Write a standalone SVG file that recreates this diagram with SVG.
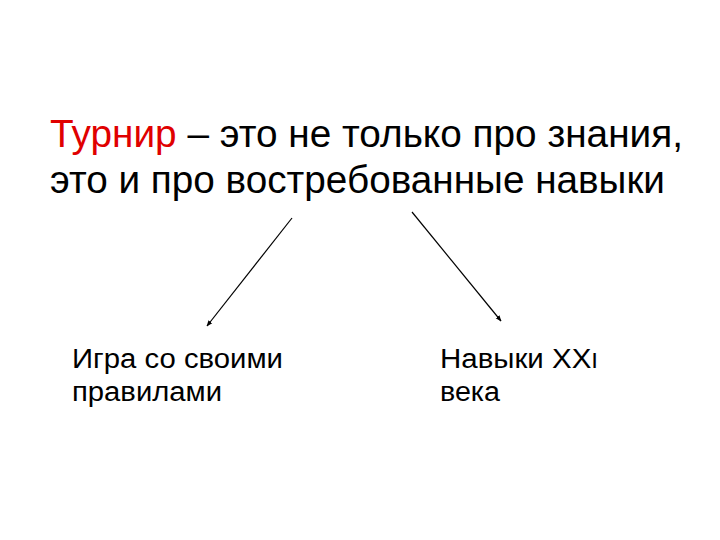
<svg xmlns="http://www.w3.org/2000/svg" width="720" height="540" viewBox="0 0 720 540">
<style>
.title{font-family:"Liberation Sans",Arial,sans-serif;font-size:38px;fill:#000}
.red{fill:#e00000}
.lbl{font-family:"Liberation Sans",Arial,sans-serif;font-size:27px;fill:#000}
.conn{stroke:#000;stroke-width:1.2;fill:none}
</style>
<defs>
<marker id="ah" viewBox="0 0 10 10" refX="9" refY="5" markerWidth="6" markerHeight="6" orient="auto" markerUnits="userSpaceOnUse">
<path d="M0,1 L10,5 L0,9 Z" fill="#000"/>
</marker>
</defs>
<rect width="720" height="540" fill="#fff"/>
<g id="title">
<text class="title" x="50" y="147" textLength="633" lengthAdjust="spacingAndGlyphs"><tspan class="red">Турнир</tspan> – это не только про знания,</text>
<text class="title" x="50" y="193" textLength="615" lengthAdjust="spacingAndGlyphs">это и про востребованные навыки</text>
</g>
<g id="node-left">
<text class="lbl" x="72" y="368" textLength="211" lengthAdjust="spacingAndGlyphs">Игра со своими</text>
<text class="lbl" x="72" y="401" textLength="150" lengthAdjust="spacingAndGlyphs">правилами</text>
</g>
<g id="node-right">
<text class="lbl" x="440" y="368" textLength="158" lengthAdjust="spacingAndGlyphs">Навыки XX<tspan font-size="22">I</tspan></text>
<text class="lbl" x="440" y="401" textLength="60" lengthAdjust="spacingAndGlyphs">века</text>
</g>
<g id="connectors">
<line class="conn" x1="292" y1="218" x2="207" y2="326" marker-end="url(#ah)"/>
<line class="conn" x1="412" y1="212" x2="501" y2="321" marker-end="url(#ah)"/>
</g>
</svg>
